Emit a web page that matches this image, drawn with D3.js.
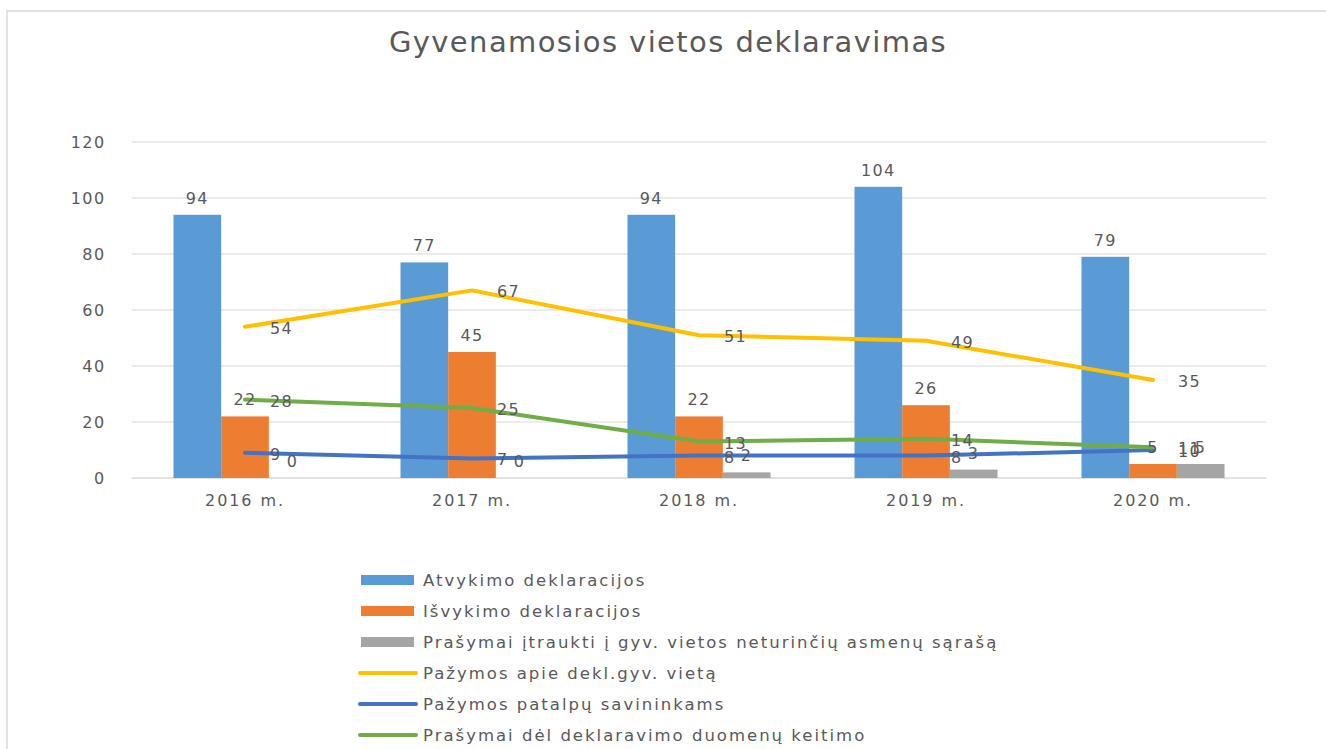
<!DOCTYPE html>
<html>
<head>
<meta charset="utf-8">
<script src="https://cdn.jsdelivr.net/npm/d3@7"></script>
<style>
  html, body { margin: 0; padding: 0; background: #fff; }
  svg { display: block; }
  text { font-family: "DejaVu Sans", sans-serif; fill: #595959; }
</style>
</head>
<body>
<svg id="chart" width="1326" height="749"></svg>
<script>
// Categories (years)
const years = ["2016 m.", "2017 m.", "2018 m.", "2019 m.", "2020 m."];

// Bar series
const atvykimo = [94, 77, 94, 104, 79];
const isvykimo = [22, 45, 22, 26, 5];
const prasymaiItraukti = [0, 0, 2, 3, 5];

// Line series
const pazymosApie = [54, 67, 51, 49, 35];
const pazymosPatalpu = [9, 7, 8, 8, 10];
const prasymaiDel = [28, 25, 13, 14, 11];

// Value axis ticks
const yTicks = [0, 20, 40, 60, 80, 100, 120];

const title = "Gyvenamosios vietos deklaravimas";

const barSeries = [
  { name: "Atvykimo deklaracijos", values: atvykimo, color: "#5B9BD5" },
  { name: "Išvykimo deklaracijos", values: isvykimo, color: "#ED7D31" },
  { name: "Prašymai įtraukti į gyv. vietos neturinčių asmenų sąrašą", values: prasymaiItraukti, color: "#A5A5A5" }
];
const lineSeries = [
  { name: "Pažymos apie dekl.gyv. vietą", values: pazymosApie, color: "#FFC000" },
  { name: "Pažymos patalpų savininkams", values: pazymosPatalpu, color: "#4472C4" },
  { name: "Prašymai dėl deklaravimo duomenų keitimo", values: prasymaiDel, color: "#70AD47" }
];

const svg = d3.select("#chart");

// Chart frame
svg.append("path")
  .attr("d", "M7,749 V11 H1326")
  .attr("fill", "none")
  .attr("stroke", "#d9d9d9")
  .attr("stroke-width", 1.5);

// Title
svg.append("text")
  .attr("x", 668).attr("y", 52)
  .attr("text-anchor", "middle")
  .style("font-size", "29px")
  .style("letter-spacing", "1.4px")
  .text(title);

const plot = { left: 131.5, right: 1266.5, top: 142, bottom: 478 };

const y = d3.scaleLinear().domain([0, 120]).range([plot.bottom, plot.top]);
const x = d3.scaleBand().domain(years).range([plot.left, plot.right])
  .paddingInner(0.37).paddingOuter(0.185);
const xSub = d3.scaleBand().domain(d3.range(barSeries.length)).range([0, x.bandwidth()]);

// Gridlines
svg.append("g")
  .selectAll("line")
  .data(yTicks)
  .join("line")
  .attr("x1", plot.left).attr("x2", plot.right)
  .attr("y1", d => y(d)).attr("y2", d => y(d))
  .attr("stroke", "#d9d9d9")
  .attr("stroke-width", d => d === 0 ? 1.5 : 1.2);

// Value axis labels
const yAxis = svg.append("g")
  .attr("transform", `translate(${plot.left - 26},0)`)
  .call(d3.axisLeft(y).tickValues(yTicks).tickSize(0).tickPadding(0));
yAxis.select(".domain").remove();
yAxis.selectAll("text")
  .style("font-size", "16px")
  .style("letter-spacing", "1.4px")
  .style("font-family", "DejaVu Sans, sans-serif")
  .attr("fill", "#595959");

// Category axis labels
const xAxis = svg.append("g")
  .attr("transform", `translate(0,${plot.bottom + 12})`)
  .call(d3.axisBottom(x).tickSize(0).tickPadding(0));
xAxis.select(".domain").remove();
xAxis.selectAll("text")
  .attr("dy", "1em")
  .style("font-size", "16px")
  .style("letter-spacing", "1.9px")
  .style("font-family", "DejaVu Sans, sans-serif")
  .attr("fill", "#595959");

// Bars
barSeries.forEach((s, si) => {
  const g = svg.append("g");
  g.selectAll("rect")
    .data(s.values)
    .join("rect")
    .attr("x", (d, i) => x(years[i]) + xSub(si))
    .attr("width", xSub.bandwidth())
    .attr("y", d => y(d))
    .attr("height", d => y(0) - y(d))
    .attr("fill", s.color);
});

// Lines
const cx = i => x(years[i]) + x.bandwidth() / 2;
lineSeries.forEach(s => {
  const line = d3.line().x((d, i) => cx(i)).y(d => y(d));
  svg.append("path")
    .datum(s.values)
    .attr("d", line)
    .attr("fill", "none")
    .attr("stroke", s.color)
    .attr("stroke-width", 4)
    .attr("stroke-linejoin", "round")
    .attr("stroke-linecap", "round");
});

// Bar value labels
barSeries.forEach((s, si) => {
  svg.append("g")
    .selectAll("text")
    .data(s.values)
    .join("text")
    .attr("x", (d, i) => x(years[i]) + xSub(si) + xSub.bandwidth() / 2)
    .attr("y", d => y(d) - 11)
    .attr("text-anchor", "middle")
    .style("font-size", "16px")
    .style("letter-spacing", "1.4px")
    .text(d => d);
});

// Line value labels, to the right of each point
lineSeries.forEach(s => {
  svg.append("g")
    .selectAll("text")
    .data(s.values)
    .join("text")
    .attr("x", (d, i) => cx(i) + 25)
    .attr("y", d => y(d) + 7)
    .style("font-size", "16px")
    .style("letter-spacing", "1.4px")
    .text(d => d);
});

// Legend
const legendItems = barSeries.map(s => ({ ...s, type: "bar" }))
  .concat(lineSeries.map(s => ({ ...s, type: "line" })));
const legend = svg.append("g");
const row = legend.selectAll("g")
  .data(legendItems)
  .join("g")
  .attr("transform", (d, i) => `translate(0,${580 + i * 31})`);
row.filter(d => d.type === "bar").append("rect")
  .attr("x", 361).attr("y", -5).attr("width", 53).attr("height", 10)
  .attr("fill", d => d.color);
row.filter(d => d.type === "line").append("line")
  .attr("x1", 360).attr("x2", 416).attr("y1", 0).attr("y2", 0)
  .attr("stroke", d => d.color)
  .attr("stroke-width", 4)
  .attr("stroke-linecap", "round");
row.append("text")
  .attr("x", 423).attr("y", 6)
  .style("font-size", "16.5px")
  .style("letter-spacing", "2px")
  .text(d => d.name);
</script>
</body>
</html>
